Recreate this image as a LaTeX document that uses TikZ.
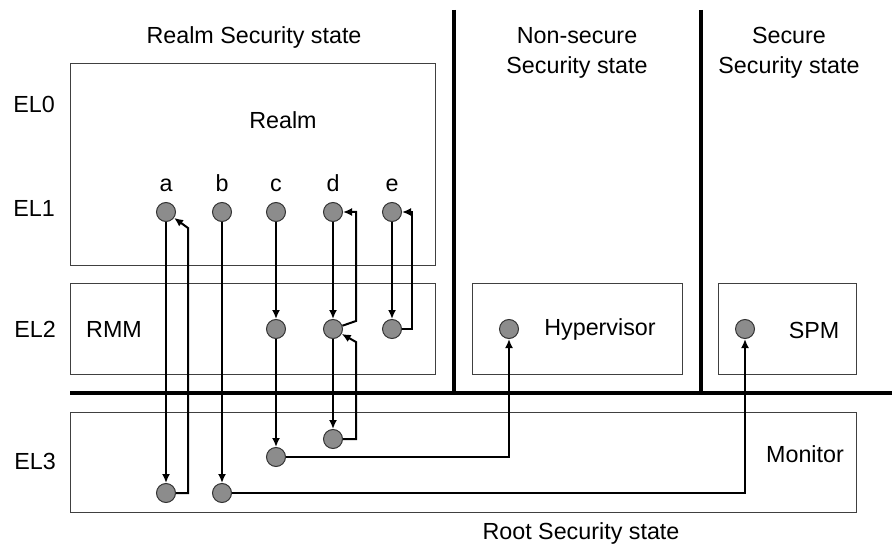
\documentclass[tikz,border=0pt]{standalone}
\usepackage{fontspec}
\setmainfont{Liberation Sans}
\usetikzlibrary{arrows.meta}

\begin{document}
\begin{tikzpicture}[x=1pt, y=-1pt,
    every node/.style={font=\fontsize{23.3}{28}\selectfont, inner sep=0pt},
    pt/.style={draw=black!80, fill=black!45, circle, minimum size=19pt, line width=1pt},
    box/.style={draw=black!75, line width=1pt},
    flow/.style={line width=2pt, -{Latex[length=9pt,width=8pt]}},
    wall/.style={line width=4pt}]
    \useasboundingbox (0,0) rectangle (896,545);

    % boxes and walls
    \draw[box] (70,64) rectangle (435,265);
    \draw[box] (70,283) rectangle (435,374);
    \draw[box] (472,283) rectangle (682,374);
    \draw[box] (718,283) rectangle (856,374);
    \draw[box] (70,412) rectangle (856,512);
    \draw[wall] (454,10) -- (454,393);
    \draw[wall] (701,10) -- (701,393);
    \draw[wall] (70,393) -- (892,393);

    % labels
    \node[anchor=base] (realmss) at (254,44) {Realm Security state};
    \node[anchor=base] (nsa) at (577,44) {Non-secure};
    \node[anchor=base] (nsb) at (577,74) {Security state};
    \node[anchor=base] (sa) at (789,44) {Secure};
    \node[anchor=base] (sb) at (789,74) {Security state};
    \node[anchor=base] (rootss) at (581,539) {Root Security state};
    \node[anchor=base] (el0) at (34,113) {EL0};
    \node[anchor=base] (el1) at (34,217) {EL1};
    \node[anchor=base] (el2) at (35,337) {EL2};
    \node[anchor=base] (el3) at (35,469) {EL3};
    \node[anchor=base] (realm) at (283,129) {Realm};
    \node[anchor=base] (rmm) at (114,337) {RMM};
    \node[anchor=base] (hypt) at (600,335) {Hypervisor};
    \node[anchor=base] (spmt) at (814,338) {SPM};
    \node[anchor=base] (mont) at (805,462) {Monitor};

    % points
    \foreach \n/\x in {a/166, b/222, c/276, d/333, e/392} {
        \node[pt] (\n1) at (\x,212) {};
        \node[anchor=base] (l\n) at (\x,192) {\n};
    }
    \foreach \n/\x in {c/276, d/333, e/392}
        \node[pt] (\n2) at (\x,329) {};
    \node[pt] (hyp) at (509,329) {};
    \node[pt] (sp) at (745,329) {};
    \node[pt] (a3) at (166,493) {};
    \node[pt] (b3) at (222,493) {};
    \node[pt] (c3) at (276,457) {};
    \node[pt] (d3) at (333,439) {};

    % flows
    \draw[flow] (a1) -- (a3);
    \draw[flow] (a3) -| (188,228) -- (a1);
    \draw[flow] (b1) -- (b3);
    \draw[flow] (b3) -| (sp);
    \draw[flow] (c1) -- (c2);
    \draw[flow] (c2) -- (c3);
    \draw[flow] (c3) -| (hyp);
    \draw[flow] (d1) -- (d2);
    \draw[flow] (d2) -- (356,321) |- (d1);
    \draw[flow] (d2) -- (d3);
    \draw[flow] (d3) -| (356,342) -- (d2);
    \draw[flow] (e1) -- (e2);
    \draw[flow] (e2) -| (412,212) -- (e1);
\end{tikzpicture}
\end{document}
